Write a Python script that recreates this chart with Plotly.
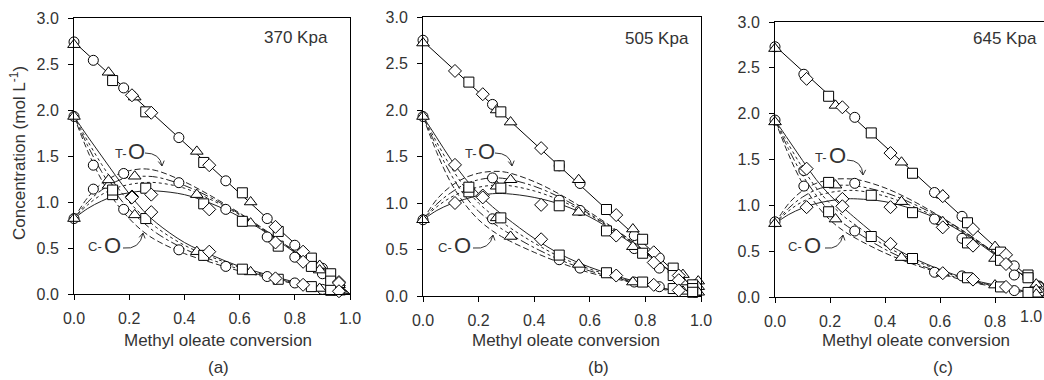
import plotly.graph_objects as go

# ---------------- DATA ----------------
# model-curve conversion grid
LX = [0, 0.05, 0.1, 0.15, 0.2, 0.25, 0.3, 0.4, 0.5, 0.6, 0.7, 0.8, 0.9, 1.0]
MO_LINE_X = [0.0, 1.0]
MO_LINE_Y = [2.74, 0.0]

# panel (a) 370 Kpa model curves
A_CO_SOLID = [1.93, 1.71, 1.50, 1.29, 1.09, 0.91, 0.77, 0.56, 0.42, 0.30, 0.21, 0.13, 0.06, 0]
A_CO_DOT = [1.93, 1.66, 1.41, 1.19, 1.00, 0.85, 0.72, 0.53, 0.40, 0.29, 0.20, 0.12, 0.06, 0]
A_CO_DASHDOT = [1.93, 1.61, 1.33, 1.10, 0.92, 0.78, 0.66, 0.49, 0.37, 0.27, 0.19, 0.12, 0.06, 0]
A_CO_DASH = [1.93, 1.55, 1.24, 1.00, 0.82, 0.68, 0.58, 0.44, 0.34, 0.25, 0.18, 0.11, 0.05, 0]
A_TO_SOLID = [0.82, 0.93, 1.01, 1.07, 1.10, 1.12, 1.12, 1.08, 0.98, 0.84, 0.66, 0.45, 0.23, 0]
A_TO_DOT = [0.82, 0.97, 1.08, 1.15, 1.19, 1.21, 1.21, 1.15, 1.02, 0.86, 0.67, 0.46, 0.23, 0]
A_TO_DASHDOT = [0.82, 1.00, 1.13, 1.22, 1.27, 1.28, 1.27, 1.18, 1.04, 0.87, 0.67, 0.46, 0.23, 0]
A_TO_DASH = [0.82, 1.05, 1.20, 1.29, 1.34, 1.36, 1.34, 1.22, 1.06, 0.88, 0.68, 0.46, 0.23, 0]

# panel (b) 505 Kpa model curves
B_CO_SOLID = [1.93, 1.70, 1.47, 1.27, 1.10, 0.96, 0.84, 0.62, 0.44, 0.31, 0.21, 0.13, 0.06, 0]
B_CO_DOT = [1.93, 1.65, 1.39, 1.17, 1.00, 0.87, 0.76, 0.57, 0.41, 0.29, 0.20, 0.12, 0.06, 0]
B_CO_DASHDOT = [1.93, 1.60, 1.31, 1.08, 0.91, 0.79, 0.69, 0.52, 0.38, 0.27, 0.19, 0.12, 0.06, 0]
B_CO_DASH = [1.93, 1.54, 1.22, 0.99, 0.82, 0.70, 0.61, 0.47, 0.35, 0.25, 0.18, 0.11, 0.05, 0]
B_TO_SOLID = [0.82, 0.92, 0.99, 1.04, 1.08, 1.10, 1.10, 1.06, 0.98, 0.85, 0.67, 0.46, 0.24, 0]
B_TO_DOT = [0.82, 0.96, 1.06, 1.13, 1.17, 1.19, 1.19, 1.13, 1.02, 0.87, 0.68, 0.47, 0.24, 0]
B_TO_DASHDOT = [0.82, 0.99, 1.11, 1.20, 1.25, 1.27, 1.26, 1.18, 1.05, 0.88, 0.69, 0.47, 0.24, 0]
B_TO_DASH = [0.82, 1.04, 1.18, 1.27, 1.32, 1.34, 1.33, 1.23, 1.08, 0.90, 0.70, 0.48, 0.24, 0]

# panel (c) 645 Kpa model curves
C_CO_SOLID = [1.93, 1.71, 1.49, 1.28, 1.11, 0.97, 0.84, 0.60, 0.43, 0.30, 0.20, 0.13, 0.07, 0]
C_CO_DOT = [1.93, 1.66, 1.41, 1.19, 1.02, 0.88, 0.77, 0.56, 0.41, 0.29, 0.19, 0.12, 0.06, 0]
C_CO_DASHDOT = [1.93, 1.61, 1.33, 1.11, 0.93, 0.80, 0.70, 0.52, 0.38, 0.27, 0.18, 0.12, 0.06, 0]
C_CO_DASH = [1.93, 1.55, 1.24, 1.01, 0.84, 0.72, 0.63, 0.48, 0.36, 0.26, 0.17, 0.11, 0.05, 0]
C_TO_SOLID = [0.80, 0.90, 0.97, 1.02, 1.05, 1.07, 1.07, 1.04, 0.96, 0.84, 0.67, 0.46, 0.24, 0]
C_TO_DOT = [0.80, 0.94, 1.04, 1.10, 1.14, 1.16, 1.16, 1.10, 0.99, 0.85, 0.68, 0.47, 0.24, 0]
C_TO_DASHDOT = [0.80, 0.97, 1.09, 1.17, 1.21, 1.22, 1.21, 1.14, 1.02, 0.87, 0.69, 0.47, 0.24, 0]
C_TO_DASH = [0.80, 1.02, 1.16, 1.24, 1.28, 1.29, 1.28, 1.19, 1.05, 0.88, 0.69, 0.48, 0.24, 0]

# experimental points: conversion, methyl oleate, trans-O, cis-O
A_CIR_X = [0, 0.07, 0.18, 0.38, 0.55, 0.70, 0.80, 0.90, 0.96]
A_CIR_MO = [2.74, 2.54, 2.24, 1.70, 1.23, 0.82, 0.53, 0.28, 0.12]
A_CIR_TO = [0.82, 1.14, 1.31, 1.21, 0.92, 0.62, 0.40, 0.22, 0.10]
A_CIR_CO = [1.93, 1.40, 0.92, 0.48, 0.30, 0.19, 0.12, 0.05, 0.03]
A_TRI_X = [0, 0.125, 0.22, 0.445, 0.64, 0.89, 0.96]
A_TRI_MO = [2.71, 2.41, 2.14, 1.55, 1.00, 0.31, 0.12]
A_TRI_TO = [0.82, 1.18, 1.28, 1.08, 0.77, 0.26, 0.10]
A_TRI_CO = [1.93, 1.24, 0.86, 0.46, 0.24, 0.06, 0.02]
A_SQR_X = [0.14, 0.26, 0.47, 0.61, 0.74, 0.86, 0.93]
A_SQR_MO = [2.32, 1.98, 1.43, 1.10, 0.68, 0.39, 0.22]
A_SQR_TO = [1.08, 1.15, 0.98, 0.79, 0.52, 0.30, 0.14]
A_SQR_CO = [1.13, 0.82, 0.42, 0.27, 0.16, 0.08, 0.04]
A_DIA_X = [0.21, 0.28, 0.49, 0.73, 0.83, 0.96]
A_DIA_MO = [2.16, 1.97, 1.40, 0.73, 0.46, 0.13]
A_DIA_TO = [1.06, 1.08, 0.92, 0.56, 0.35, 0.12]
A_DIA_CO = [1.05, 0.89, 0.46, 0.17, 0.10, 0.03]

B_CIR_X = [0, 0.25, 0.49, 0.565, 0.76, 0.85, 0.98]
B_CIR_MO = [2.75, 2.06, 1.40, 1.21, 0.65, 0.41, 0.12]
B_CIR_TO = [0.82, 1.27, 1.03, 0.92, 0.51, 0.30, 0.08]
B_CIR_CO = [1.93, 0.83, 0.39, 0.30, 0.15, 0.10, 0.04]
B_TRI_X = [0, 0.265, 0.315, 0.56, 0.755, 0.935, 0.99]
B_TRI_MO = [2.72, 2.00, 1.87, 1.25, 0.72, 0.23, 0.16]
B_TRI_TO = [0.82, 1.18, 1.25, 0.90, 0.53, 0.15, 0.10]
B_TRI_CO = [1.93, 0.84, 0.64, 0.34, 0.15, 0.05, 0.04]
B_SQR_X = [0.165, 0.28, 0.49, 0.66, 0.79, 0.90, 0.97]
B_SQR_MO = [2.30, 1.98, 1.40, 0.93, 0.61, 0.30, 0.12]
B_SQR_TO = [1.12, 1.16, 0.97, 0.70, 0.46, 0.22, 0.08]
B_SQR_CO = [1.17, 0.84, 0.44, 0.25, 0.15, 0.08, 0.04]
B_DIA_X = [0.115, 0.215, 0.425, 0.695, 0.83, 0.92]
B_DIA_MO = [2.42, 2.17, 1.59, 0.87, 0.47, 0.22]
B_DIA_TO = [1.00, 1.08, 0.98, 0.65, 0.36, 0.17]
B_DIA_CO = [1.41, 1.06, 0.61, 0.22, 0.12, 0.06]

C_CIR_X = [0, 0.105, 0.29, 0.58, 0.68, 0.87, 0.96]
C_CIR_MO = [2.73, 2.43, 1.96, 1.14, 0.88, 0.34, 0.12]
C_CIR_TO = [0.82, 1.21, 1.24, 0.85, 0.64, 0.24, 0.11]
C_CIR_CO = [1.93, 1.38, 0.72, 0.27, 0.23, 0.07, 0.05]
C_TRI_X = [0, 0.22, 0.46, 0.61, 0.80, 0.95]
C_TRI_MO = [2.71, 2.09, 1.47, 1.11, 0.55, 0.14]
C_TRI_TO = [0.80, 1.22, 1.04, 0.82, 0.42, 0.08]
C_TRI_CO = [1.91, 0.85, 0.43, 0.26, 0.13, 0.03]
C_SQR_X = [0.195, 0.35, 0.50, 0.70, 0.82, 0.92]
C_SQR_MO = [2.19, 1.79, 1.35, 0.81, 0.49, 0.24]
C_SQR_TO = [1.25, 1.11, 0.92, 0.59, 0.40, 0.21]
C_SQR_CO = [0.93, 0.66, 0.42, 0.21, 0.11, 0.05]
C_DIA_X = [0.115, 0.245, 0.42, 0.61, 0.72, 0.84]
C_DIA_MO = [2.38, 2.07, 1.57, 1.10, 0.74, 0.46]
C_DIA_TO = [0.98, 1.07, 0.98, 0.76, 0.56, 0.36]
C_DIA_CO = [1.40, 0.99, 0.58, 0.26, 0.19, 0.11]

PRESSURES = ["370 Kpa", "505 Kpa", "645 Kpa"]
PANEL_TAGS = ["(a)", "(b)", "(c)"]
X_TICKS = [0, 0.2, 0.4, 0.6, 0.8, 1.0]
Y_TICKS = [0, 0.5, 1.0, 1.5, 2.0, 2.5, 3.0]

# ---------------- LAYOUT GEOMETRY ----------------
W, H = 1044, 380
FONT = "Arial, Liberation Sans, sans-serif"
TXT = "#333333"

def px(x):
    return x / W

def py(y):
    return 1 - y / H

# plot-area pixel boxes (left, right, top, bottom)
BOXES = [(74, 350, 18, 294), (423, 701, 17, 296), (775, 1044, 22, 297)]
XRANGES = [[0, 1.0], [0, 1.0], [0, (1044 - 775) / 275]]

fig = go.Figure()

panels = [
    dict(lines=[A_CO_SOLID, A_CO_DOT, A_CO_DASHDOT, A_CO_DASH, A_TO_SOLID, A_TO_DOT, A_TO_DASHDOT, A_TO_DASH],
         pts=[(A_CIR_X, A_CIR_MO, A_CIR_TO, A_CIR_CO, "circle", 10),
              (A_TRI_X, A_TRI_MO, A_TRI_TO, A_TRI_CO, "triangle-up", 11),
              (A_SQR_X, A_SQR_MO, A_SQR_TO, A_SQR_CO, "square", 10),
              (A_DIA_X, A_DIA_MO, A_DIA_TO, A_DIA_CO, "diamond", 10)]),
    dict(lines=[B_CO_SOLID, B_CO_DOT, B_CO_DASHDOT, B_CO_DASH, B_TO_SOLID, B_TO_DOT, B_TO_DASHDOT, B_TO_DASH],
         pts=[(B_CIR_X, B_CIR_MO, B_CIR_TO, B_CIR_CO, "circle", 10),
              (B_TRI_X, B_TRI_MO, B_TRI_TO, B_TRI_CO, "triangle-up", 11),
              (B_SQR_X, B_SQR_MO, B_SQR_TO, B_SQR_CO, "square", 10),
              (B_DIA_X, B_DIA_MO, B_DIA_TO, B_DIA_CO, "diamond", 10)]),
    dict(lines=[C_CO_SOLID, C_CO_DOT, C_CO_DASHDOT, C_CO_DASH, C_TO_SOLID, C_TO_DOT, C_TO_DASHDOT, C_TO_DASH],
         pts=[(C_CIR_X, C_CIR_MO, C_CIR_TO, C_CIR_CO, "circle", 10),
              (C_TRI_X, C_TRI_MO, C_TRI_TO, C_TRI_CO, "triangle-up", 11),
              (C_SQR_X, C_SQR_MO, C_SQR_TO, C_SQR_CO, "square", 10),
              (C_DIA_X, C_DIA_MO, C_DIA_TO, C_DIA_CO, "diamond", 10)]),
]
DASHES = ["solid", "dot", "dashdot", "6px,3px"]

for i, p in enumerate(panels):
    xa = "x" if i == 0 else f"x{i+1}"
    ya = "y" if i == 0 else f"y{i+1}"
    # methyl oleate model line
    fig.add_trace(go.Scatter(x=MO_LINE_X, y=MO_LINE_Y, mode="lines", xaxis=xa, yaxis=ya,
                             line=dict(color="black", width=1), showlegend=False, hoverinfo="skip"))
    for k, ys in enumerate(p["lines"]):
        fig.add_trace(go.Scatter(x=LX, y=ys, mode="lines", xaxis=xa, yaxis=ya,
                                 line=dict(color="#222222", width=1, dash=DASHES[k % 4], shape="spline", smoothing=1.0),
                                 showlegend=False, hoverinfo="skip"))
    for (xs, mo, to, co, sym, sz) in p["pts"]:
        for ys in (mo, to, co):
            fig.add_trace(go.Scatter(x=xs, y=ys, mode="markers", xaxis=xa, yaxis=ya, cliponaxis=False,
                                     marker=dict(symbol=sym, size=sz, color="white",
                                                 line=dict(color="black", width=1)),
                                     showlegend=False, hoverinfo="skip"))

layout = dict(width=W, height=H, margin=dict(l=0, r=0, t=0, b=0, autoexpand=False),
              paper_bgcolor="white", plot_bgcolor="white",
              font=dict(family=FONT, size=16, color=TXT), showlegend=False)

for i, (l, r, t, b) in enumerate(BOXES):
    xk = "xaxis" if i == 0 else f"xaxis{i+1}"
    yk = "yaxis" if i == 0 else f"yaxis{i+1}"
    layout[xk] = dict(domain=[px(l), px(r)], range=XRANGES[i], anchor="y" if i == 0 else f"y{i+1}",
                      tickvals=X_TICKS, tickformat=".1f", ticks="outside", ticklen=5, tickcolor="black",
                      showline=True, linecolor="black", linewidth=1, mirror=True, automargin=False,
                      showgrid=False, zeroline=False, ticklabelstandoff=5,
                      tickfont=dict(family=FONT, size=16, color=TXT))
    layout[yk] = dict(domain=[py(b), py(t)], range=[0, 3.0], anchor="x" if i == 0 else f"x{i+1}",
                      tickvals=Y_TICKS, tickformat=".1f", ticks="outside", ticklen=5, tickcolor="black",
                      showline=True, linecolor="black", linewidth=1, mirror=(i < 2), automargin=False,
                      showgrid=False, zeroline=False, ticklabelstandoff=6,
                      tickfont=dict(family=FONT, size=16, color=TXT))
fig.update_layout(**layout)

ann = []
shapes = []
# pressure labels
for (cx, cy), s in zip([(296, 38), (657, 39), (1005, 39)], PRESSURES):
    ann.append(dict(x=px(cx), y=py(cy), xref="paper", yref="paper", text=s, showarrow=False,
                    font=dict(size=17, color=TXT), xanchor="center", yanchor="middle"))
# x-axis titles & panel tags
for (cx, tx), tag in zip([(218, 218), (566, 598), (916, 943)], PANEL_TAGS):
    ann.append(dict(x=px(cx), y=py(340), xref="paper", yref="paper", text="Methyl oleate conversion",
                    showarrow=False, font=dict(size=17, color=TXT), xanchor="center", yanchor="middle"))
    ann.append(dict(x=px(tx), y=py(367), xref="paper", yref="paper", text=tag,
                    showarrow=False, font=dict(size=17, color=TXT), xanchor="center", yanchor="middle"))
# clipped last tick label of panel (c)
ann.append(dict(x=1.0, y=py(316), xref="paper", yref="paper", text="1.0", showarrow=False,
                font=dict(size=16, color=TXT), xanchor="right", yanchor="middle"))
# y-axis title
ann.append(dict(x=px(18), y=py(153), xref="paper", yref="paper", text="Concentration (mol L<sup>-1</sup>)",
                textangle=-90, showarrow=False, font=dict(size=17, color=TXT), xanchor="center", yanchor="middle"))

# T-O / C-O labels with curved arrows (pixel positions)
LABELS = [
    ((121, 153), (136, 151), (145, 153), (160, 153), (162, 166)),
    ((471, 153), (486, 151), (495, 153), (510, 153), (512, 166)),
    ((821, 158), (837, 155), (847, 160), (862, 160), (863, 175)),
]
CLABELS = [
    ((95, 246), (112, 245), (123, 248), (140, 250), (143, 233)),
    ((445, 247), (462, 245), (473, 248), (490, 250), (493, 235)),
    ((795, 246), (812, 245), (825, 248), (840, 250), (843, 235)),
]
for lab, group in (("T-", LABELS), ("C-", CLABELS)):
    for (s1, s2, a0, ac, a1) in group:
        ann.append(dict(x=px(s1[0]), y=py(s1[1]), xref="paper", yref="paper", text=lab, showarrow=False,
                        font=dict(size=13, color=TXT), xanchor="center", yanchor="middle"))
        ann.append(dict(x=px(s2[0]), y=py(s2[1]), xref="paper", yref="paper", text="O", showarrow=False,
                        font=dict(size=22, color=TXT), xanchor="center", yanchor="middle"))
        shapes.append(dict(type="path", xref="paper", yref="paper",
                           path=f"M {px(a0[0])},{py(a0[1])} Q {px(ac[0])},{py(ac[1])} {px(a1[0])},{py(a1[1])}",
                           line=dict(color=TXT, width=1)))
        # open arrowhead
        dx, dy = a1[0] - ac[0], a1[1] - ac[1]
        n = (dx * dx + dy * dy) ** 0.5
        ux, uy = dx / n, dy / n
        vx, vy = -uy, ux
        bx, by = a1[0] - ux * 5, a1[1] - uy * 5
        p1 = (bx + vx * 3, by + vy * 3)
        p2 = (bx - vx * 3, by - vy * 3)
        shapes.append(dict(type="path", xref="paper", yref="paper",
                           path=f"M {px(p1[0])},{py(p1[1])} L {px(a1[0])},{py(a1[1])} L {px(p2[0])},{py(p2[1])}",
                           line=dict(color=TXT, width=1)))

fig.update_layout(annotations=ann, shapes=shapes)
fig.write_html("out.html", config={"displayModeBar": False},
               post_script="document.body.style.margin='0';document.body.style.overflow='hidden';")
